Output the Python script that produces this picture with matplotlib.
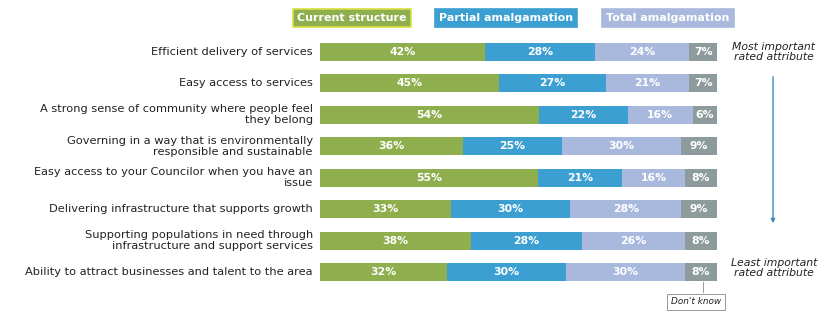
import matplotlib
matplotlib.use("Agg")
import matplotlib.pyplot as plt
import numpy as np

categories = [
    "Efficient delivery of services",
    "Easy access to services",
    "A strong sense of community where people feel\nthey belong",
    "Governing in a way that is environmentally\nresponsible and sustainable",
    "Easy access to your Councilor when you have an\nissue",
    "Delivering infrastructure that supports growth",
    "Supporting populations in need through\ninfrastructure and support services",
    "Ability to attract businesses and talent to the area",
]
series_names = ["Current structure", "Partial amalgamation", "Total amalgamation", "Don't know"]
current = [42, 45, 54, 36, 55, 33, 38, 32]
partial = [28, 27, 22, 25, 21, 30, 28, 30]
total = [24, 21, 16, 30, 16, 28, 26, 30]
dont_know = [7, 7, 6, 9, 8, 9, 8, 8]

colors = ["#8fae4e", "#3b9fd2", "#a9b9de", "#8d9b9c"]

fig = plt.figure(figsize=(8.32, 3.12), dpi=100)
ax = fig.add_axes([320/832, 1-288/312, 397/832, 252/312])

data = np.array([current, partial, total, dont_know], dtype=float)
totals = data.sum(axis=0)
norm = data / totals * 100
y = np.arange(len(categories))
left = np.zeros(len(categories))
for i in range(4):
    ax.barh(y, norm[i], left=left, height=0.58, color=colors[i], edgecolor="none")
    for j in range(len(categories)):
        ax.text(left[j] + norm[i][j] / 2, y[j], f"{int(data[i][j])}%", ha="center", va="center",
                color="white", fontsize=7.8, fontweight="bold")
    left += norm[i]

ax.set_xlim(0, 100)
ax.set_ylim(len(categories) - 0.5, -0.5)
ax.axis("off")

for j, c in enumerate(categories):
    ax.text(-1.8, y[j], c, ha="right", va="center", fontsize=8.2, color="#222222",
            linespacing=1.15)

# Legend boxes
leg = [("Current structure", 352/832, colors[0], "#d8e040"),
       ("Partial amalgamation", 506/832, colors[1], colors[1]),
       ("Total amalgamation", 668/832, colors[2], colors[2])]
for name, xc, fc, ec in leg:
    fig.text(xc, 1-18/312, name, ha="center", va="center", fontsize=8.0, fontweight="bold",
             color="white", bbox=dict(boxstyle="square,pad=0.35", fc=fc, ec=ec, lw=1.2))

# Right annotations
fig.text(774/832, 1-52/312, "Most important\nrated attribute", ha="center", va="center",
         fontsize=7.8, style="italic", color="#222222", linespacing=1.0)
fig.text(774/832, 1-268/312, "Least important\nrated attribute", ha="center", va="center",
         fontsize=7.8, style="italic", color="#222222", linespacing=1.0)
fig.add_artist(matplotlib.patches.FancyArrowPatch((773/832, 1-74/312), (773/832, 1-226/312),
               transform=fig.transFigure, arrowstyle="-|>", mutation_scale=6,
               color="#3a8fb8", lw=1.0))

# Don't know box
fig.text(696/832, 1-302/312, "Don't know", ha="center", va="center", fontsize=6.4,
         style="italic", color="#222222",
         bbox=dict(boxstyle="square,pad=0.4", fc="white", ec="#888888", lw=0.6))
fig.add_artist(matplotlib.lines.Line2D([703/832, 703/832], [1-282/312, 1-292/312],
               transform=fig.transFigure, color="#888888", lw=0.6))

fig.savefig("out.png", dpi=100)
